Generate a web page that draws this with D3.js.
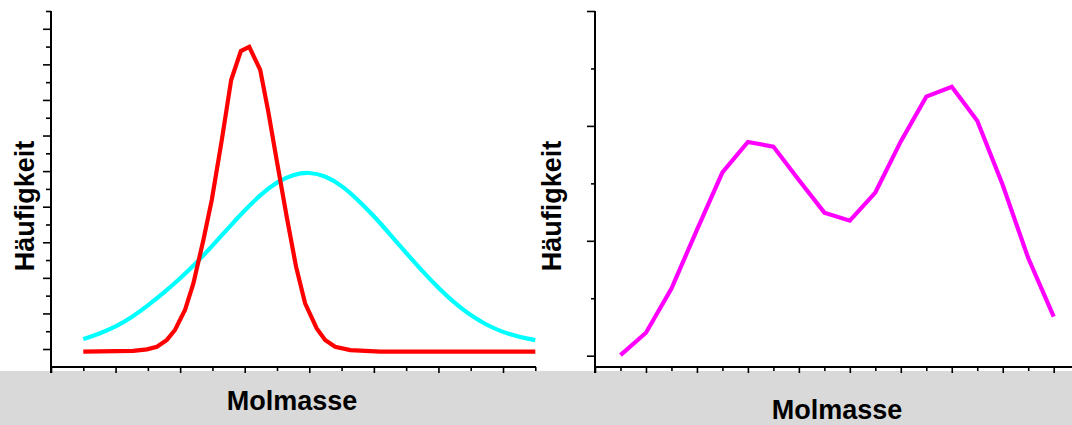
<!DOCTYPE html>
<html><head><meta charset="utf-8">
<script src="https://cdn.jsdelivr.net/npm/d3@7"></script>
<style>
html,body{margin:0;padding:0;background:#fff;}
svg{display:block;}
text{font-family:"Liberation Sans",Arial,sans-serif;font-weight:bold;fill:#000;}
</style></head>
<body><svg id="chart" width="1072" height="425"></svg>
<script>
// ---- Data ----
const xLabel = "Molmasse";
const yLabel = "Häufigkeit";

// Left panel: broad distribution (cyan), x in axis units 0..15, y in axis units 0..20
const broadX = [1,1.5,2,2.5,3,3.5,4,4.5,5,5.5,6,6.5,7,7.5,8,8.5,9,9.5,10,10.5,11,11.5,12,12.5,13,13.5,14,14.5,15];
const broadY = [1.56,1.86,2.24,2.78,3.44,4.17,4.96,5.84,6.8,7.82,8.8,9.7,10.4,10.82,10.95,10.74,10.2,9.4,8.48,7.45,6.4,5.38,4.42,3.58,2.88,2.34,1.94,1.68,1.5];

// Left panel: narrow distribution (red)
const narrowX = [1,2.55,2.97,3.28,3.59,3.84,4.15,4.41,4.72,4.98,5.29,5.58,5.88,6.14,6.48,6.73,6.99,7.30,7.59,7.87,8.23,8.49,8.80,9.27,10.2,15];
const narrowY = [0.85,0.90,0.98,1.13,1.51,2.07,3.19,4.69,7.13,9.38,12.75,16.12,17.75,17.98,16.69,14.34,11.62,8.44,5.63,3.57,2.16,1.51,1.13,0.94,0.85,0.85];

// Right panel: bimodal distribution (magenta), x = tick index 1..18, y in axis units
const bimodalX = [1,2,3,4,5,6,7,8,9,10,11,12,13,14,15,16,17,18];
const bimodalY = [0.1,4.0,11.7,21.9,31.9,37.2,36.4,30.6,24.9,23.5,28.4,37.3,45.1,46.8,40.9,29.7,17.0,6.8];

// Tick values
const leftXTicks = d3.range(0, 16);
const leftYTicks = d3.range(1, 21);
const rightXTicks = d3.range(0, 19);
const rightYTicks = [0,10,20,30,40,50,60];

// ---- Drawing ----
const svg = d3.select("#chart");

// grey band
svg.append("rect").attr("x",0).attr("y",371).attr("width",1072).attr("height",54).attr("fill","#d9d9d9");

// Left scales
const lx = d3.scaleLinear().domain([0,15]).range([51,535.3]);
const ly = d3.scaleLinear().domain([0,20]).range([366.8,11]);
// Right scales
const rx = d3.scaleLinear().domain([0,18]).range([595,1053.7]);
const ry = d3.scaleLinear().domain([0,60]).range([355.7,11]);

function tickAxis(g, axisGen, vals, size){
  g.call(axisGen.tickValues(vals).tickSize(size).tickSizeOuter(0).tickFormat(""));
  g.select(".domain").remove();
  g.selectAll(".tick line").attr("stroke","#000").attr("stroke-width",1.6);
}

// Left axes ticks
tickAxis(svg.append("g").attr("transform","translate(51,0)"), d3.axisLeft(ly), leftYTicks.filter(v=>v%2===1), 8);
tickAxis(svg.append("g").attr("transform","translate(51,0)"), d3.axisLeft(ly), leftYTicks.filter(v=>v%2===0), 5);
tickAxis(svg.append("g").attr("transform","translate(0,367)"), d3.axisBottom(lx), leftXTicks.filter(v=>v%2===0), 6);
tickAxis(svg.append("g").attr("transform","translate(0,367)"), d3.axisBottom(lx), leftXTicks.filter(v=>v%2===1), 4);
// Right axes ticks
tickAxis(svg.append("g").attr("transform","translate(595,0)"), d3.axisLeft(ry), rightYTicks.filter(v=>v%20===0), 8);
tickAxis(svg.append("g").attr("transform","translate(595,0)"), d3.axisLeft(ry), rightYTicks.filter(v=>v%20!==0), 4);
tickAxis(svg.append("g").attr("transform","translate(0,367)"), d3.axisBottom(rx), rightXTicks.filter(v=>v%2===0), 6);
tickAxis(svg.append("g").attr("transform","translate(0,367)"), d3.axisBottom(rx), rightXTicks.filter(v=>v%2===1), 4);

// Axis lines
const axLines = [
  [51,11,51,373],[50,367,536,367],
  [595,11,595,373],[594,367,1072,367]
];
svg.selectAll("line.ax").data(axLines).join("line").attr("class","ax")
  .attr("x1",d=>d[0]).attr("y1",d=>d[1]).attr("x2",d=>d[2]).attr("y2",d=>d[3])
  .attr("stroke","#000").attr("stroke-width",2);

// Curves
svg.append("path").datum(broadX.map((x,i)=>[x,broadY[i]]))
  .attr("d", d3.line().x(d=>lx(d[0])).y(d=>ly(d[1])).curve(d3.curveBasis))
  .attr("fill","none").attr("stroke","#00ffff").attr("stroke-width",4.2);
svg.append("path").datum(narrowX.map((x,i)=>[x,narrowY[i]]))
  .attr("d", d3.line().x(d=>lx(d[0])).y(d=>ly(d[1])))
  .attr("fill","none").attr("stroke","#ff0000").attr("stroke-width",4.2);
svg.append("path").datum(bimodalX.map((x,i)=>[x,bimodalY[i]]))
  .attr("d", d3.line().x(d=>rx(d[0])).y(d=>ry(d[1])))
  .attr("fill","none").attr("stroke","#ff00ff").attr("stroke-width",4.2);

// Labels
svg.append("text").attr("x",292).attr("y",410).attr("text-anchor","middle").attr("font-size",27).text(xLabel);
svg.append("text").attr("x",837).attr("y",419).attr("text-anchor","middle").attr("font-size",27).text(xLabel);
svg.append("text").attr("transform","translate(33.5,206) rotate(-90)").attr("text-anchor","middle").attr("font-size",27).text(yLabel);
svg.append("text").attr("transform","translate(560.5,206) rotate(-90)").attr("text-anchor","middle").attr("font-size",27).text(yLabel);
</script>
</body></html>
